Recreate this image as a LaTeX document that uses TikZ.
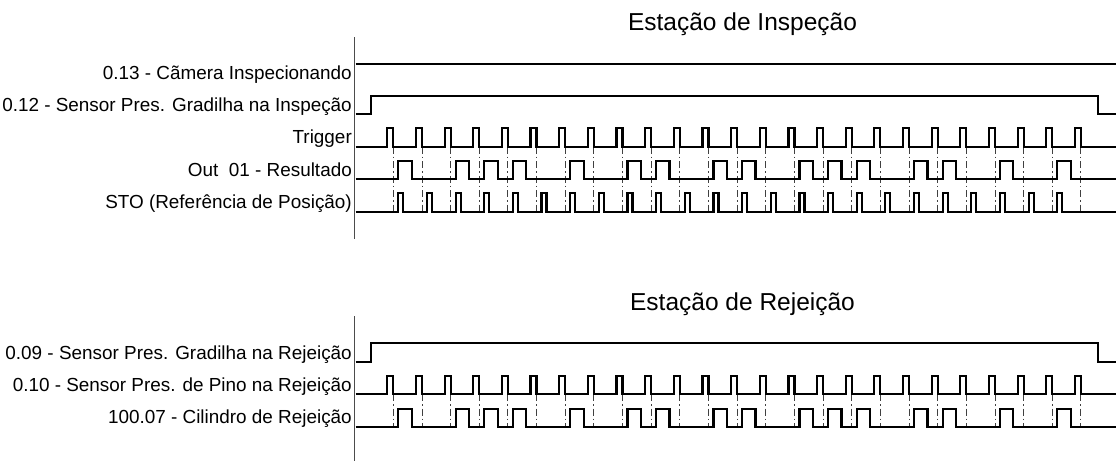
\documentclass[tikz,border=0pt]{standalone}
\usepackage{fontspec}
\setmainfont{Liberation Sans}
\begin{document}
\begin{tikzpicture}[x=1pt,y=-1pt,
  sig/.style={line width=2.2pt,black,line join=miter},
  axisline/.style={line width=1.5pt,color=black!70},
  guide/.style={line width=0.9pt,color=black!75,dash pattern=on 7pt off 3pt on 1.5pt off 3pt},
  lbl/.style={anchor=base east,inner sep=0pt,font=\fontsize{18.9}{20}\selectfont,text=black},
  ttl/.style={anchor=base,inner sep=0pt,font=\fontsize{24.5}{26}\selectfont,text=black}]
\useasboundingbox (0,0) rectangle (1116,461);
\def\per{28.65}
% titles
\node[ttl] (t1) at (742.5,30.7) {Estação de Inspeção};
\node[ttl] (t2) at (742.5,310.7) {Estação de Rejeição};
% axes
\coordinate (a1t) at (354.7,37);
\coordinate (a1b) at (354.7,239);
\coordinate (a2t) at (354.7,316);
\coordinate (a2b) at (354.7,461);
\draw[axisline] (a1t) -- (a1b);
\draw[axisline] (a2t) -- (a2b);
% labels
\node[lbl] (l1) at (352,79.5) {0.13 - Cãmera Inspecionando};
\node[lbl] (l2) at (352,111.5) {0.12 - Sensor Pres. Gradilha na Inspeção};
\node[lbl] (l3) at (352,143.5) {Trigger};
\node[lbl] (l4) at (352,176) {Out\ \ 01 - Resultado};
\node[lbl] (l5) at (352,208.5) {STO (Referência de Posição)};
\node[lbl] (l6) at (352,359.3) {0.09 - Sensor Pres. Gradilha na Rejeição};
\node[lbl] (l7) at (352,391.7) {0.10 - Sensor Pres. de Pino na Rejeição};
\node[lbl] (l8) at (352,423.5) {100.07 - Cilindro de Rejeição};
% guide lines
\foreach \i in {1,...,25}{
  \draw[guide] ({393.3+(\i-1)*\per},146.7) -- ({393.3+(\i-1)*\per},212.3);
  \draw[guide] ({393.3+(\i-1)*\per},394) -- ({393.3+(\i-1)*\per},426.7);
}
% 0.13
\draw[sig] (355.5,64) -- (1116,64);
% 0.12
\draw[sig] (355.5,114) -- (371,114) -- (371,95.7) -- (1098,95.7) -- (1098,114) -- (1116,114);
% Trigger
\draw[sig] (355.5,146.7) \foreach \i in {0,...,24}{
  -- ({387.3+\i*\per},146.7) -- ({387.3+\i*\per},128) -- ({393.3+\i*\per},128) -- ({393.3+\i*\per},146.7)
} -- (1116,146.7);
% Out 01
\draw[sig] (355.5,179) \foreach \i in {1,3,4,5,7,9,10,12,13,15,16,17,19,20,22,24}{
  -- ({398.3+(\i-1)*\per},179) -- ({398.3+(\i-1)*\per},160.7) -- ({411.7+(\i-1)*\per},160.7) -- ({411.7+(\i-1)*\per},179)
} -- (1116,179);
% STO
\draw[sig] (355.5,212.3) \foreach \i in {1,...,24}{
  -- ({398.3+(\i-1)*\per},212.3) -- ({398.3+(\i-1)*\per},193.3) -- ({403.3+(\i-1)*\per},193.3) -- ({403.3+(\i-1)*\per},212.3)
} -- (1116,212.3);
% 0.09
\draw[sig] (355.5,361.7) -- (371,361.7) -- (371,343.3) -- (1098,343.3) -- (1098,361.7) -- (1116,361.7);
% 0.10
\draw[sig] (355.5,394) \foreach \i in {0,...,24}{
  -- ({387.3+\i*\per},394) -- ({387.3+\i*\per},375.7) -- ({393.3+\i*\per},375.7) -- ({393.3+\i*\per},394)
} -- (1116,394);
% 100.07
\draw[sig] (355.5,426.7) \foreach \i in {1,3,4,5,7,9,10,12,13,15,16,17,19,20,22,24}{
  -- ({398.3+(\i-1)*\per},426.7) -- ({398.3+(\i-1)*\per},409) -- ({411.7+(\i-1)*\per},409) -- ({411.7+(\i-1)*\per},426.7)
} -- (1116,426.7);
\end{tikzpicture}
\end{document}
